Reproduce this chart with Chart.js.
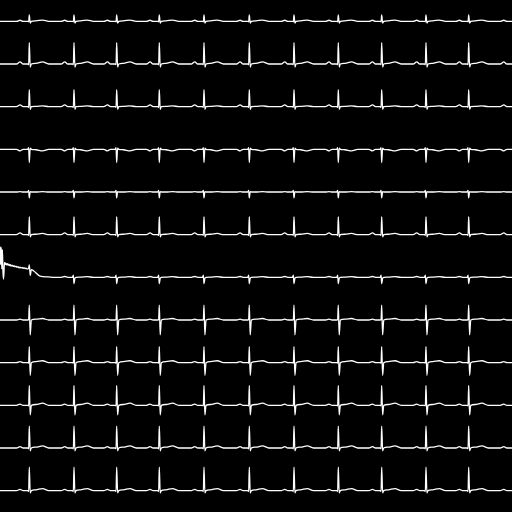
<!DOCTYPE html>
<html>
<head>
<meta charset="utf-8">
<script src="https://cdn.jsdelivr.net/npm/chart.js@4"></script>
<style>
html,body{margin:0;padding:0;background:#000;}
#wrap{width:512px;height:512px;background:#000;}
</style>
</head>
<body>
<div id="wrap"><canvas id="c"></canvas></div>
<script>
// 12-lead ECG, 10 s recording
const leadNames = ['I','II','III','aVR','aVL','aVF','V1','V2','V3','V4','V5','V6'];
// R-peak times (s)
const beatTimes = [0.572, 1.445, 2.279, 3.111, 3.984, 4.869, 5.742, 6.607, 7.455, 8.320, 9.154, 10.02];
// sample offsets relative to R peak (s)
const beatOffsets = [-0.25, -0.18, -0.12, -0.03, -0.012, 0, 0.018, 0.04, 0.13, 0.26, 0.38];
// beat amplitudes (mV) at each offset, per lead
const leadI   = [0, 0.05, 0, 0, -0.02, 0.30, -0.08, 0, 0.02, 0.06, 0];
const leadII  = [0, 0.10, 0, 0, -0.03, 1.00, -0.14, 0, 0.03, 0.10, 0];
const leadIII = [0, 0.08, 0, 0, -0.03, 0.80, -0.12, 0, 0.01, 0.04, 0];
const leadAVR = [0, -0.07, 0, 0, 0.08, -0.62, 0.06, 0, -0.02, -0.07, 0];
const leadAVL = [0, 0.02, 0, 0, 0.08, -0.28, 0.02, 0, 0, 0.02, 0];
const leadAVF = [0, 0.08, 0, 0, -0.03, 0.85, -0.10, 0, 0.02, 0.06, 0];
const leadV1  = [0, 0.04, 0, 0, 0.10, -0.30, -0.05, 0, 0.01, 0.03, 0];
const leadV2  = [0, 0.04, 0, 0, 0.02, 0.70, -0.70, 0, 0.04, 0.07, 0];
const leadV3  = [0, 0.05, 0, 0, -0.02, 0.75, -0.60, 0, 0.05, 0.09, 0];
const leadV4  = [0, 0.06, 0, 0, -0.03, 0.93, -0.45, 0, 0.04, 0.10, 0];
const leadV5  = [0, 0.06, 0, 0, -0.04, 1.03, -0.13, 0, 0.04, 0.10, 0];
const leadV6  = [0, 0.06, 0, 0, -0.04, 1.10, -0.10, 0, 0.04, 0.10, 0];
// V1 opening artifact and first beat (time s, mV)
const v1StartT = [0, 0.012, 0.024, 0.035, 0.047, 0.059, 0.07, 0.088, 0.1, 0.112, 0.127, 0.142, 0.156, 0.171, 0.186, 0.2, 0.215, 0.235, 0.254, 0.273, 0.293, 0.312, 0.332, 0.352, 0.371, 0.39, 0.41, 0.43, 0.449, 0.468, 0.488, 0.508, 0.527, 0.557, 0.572, 0.592, 0.61, 0.66, 0.78, 0.94, 1.07];
const v1StartV = [1.45, 0.6, 1.4, 0.4, 1.3, 0.2, -0.08, 0.7, 0.6, 0.66, 0.58, 0.64, 0.57, 0.62, 0.55, 0.6, 0.53, 0.57, 0.51, 0.55, 0.49, 0.53, 0.47, 0.5, 0.45, 0.48, 0.44, 0.46, 0.42, 0.45, 0.41, 0.43, 0.4, 0.41, 0.58, 0.08, 0.36, 0.3, 0.06, 0.02, 0];

const templates = [leadI, leadII, leadIII, leadAVR, leadAVL, leadAVF, leadV1, leadV2, leadV3, leadV4, leadV5, leadV6];
const T_END = 10;
const ROW_SPAN = 2; // mV per row

function buildLead(i) {
  const off = (templates.length - 1 - i) * ROW_SPAN;
  const pts = [];
  let firstBeat = 0;
  if (leadNames[i] === 'V1') {
    v1StartT.forEach((t, k) => pts.push({x: t, y: v1StartV[k] + off}));
    firstBeat = 1;
  } else {
    pts.push({x: 0, y: off});
  }
  for (let b = firstBeat; b < beatTimes.length; b++) {
    beatOffsets.forEach((o, k) => {
      const t = beatTimes[b] + o;
      if (t > 0 && t < T_END) pts.push({x: t, y: templates[i][k] + off});
    });
  }
  pts.push({x: T_END, y: off});
  pts.sort((a, b) => a.x - b.x);
  return pts;
}

const datasets = leadNames.map((name, i) => ({
  label: name,
  data: buildLead(i),
  borderColor: '#ffffff',
  borderWidth: 1.3,
  pointRadius: 0,
  fill: false,
  cubicInterpolationMode: 'monotone'
}));

new Chart(document.getElementById('c'), {
  type: 'line',
  data: {datasets},
  options: {
    responsive: true,
    maintainAspectRatio: false,
    animation: false,
    parsing: false,
    layout: {padding: 0},
    plugins: {legend: {display: false}, tooltip: {enabled: false}},
    scales: {
      x: {type: 'linear', min: 0, max: T_END, display: false},
      y: {type: 'linear', min: -1, max: 23, display: false}
    }
  }
});
</script>
</body>
</html>
